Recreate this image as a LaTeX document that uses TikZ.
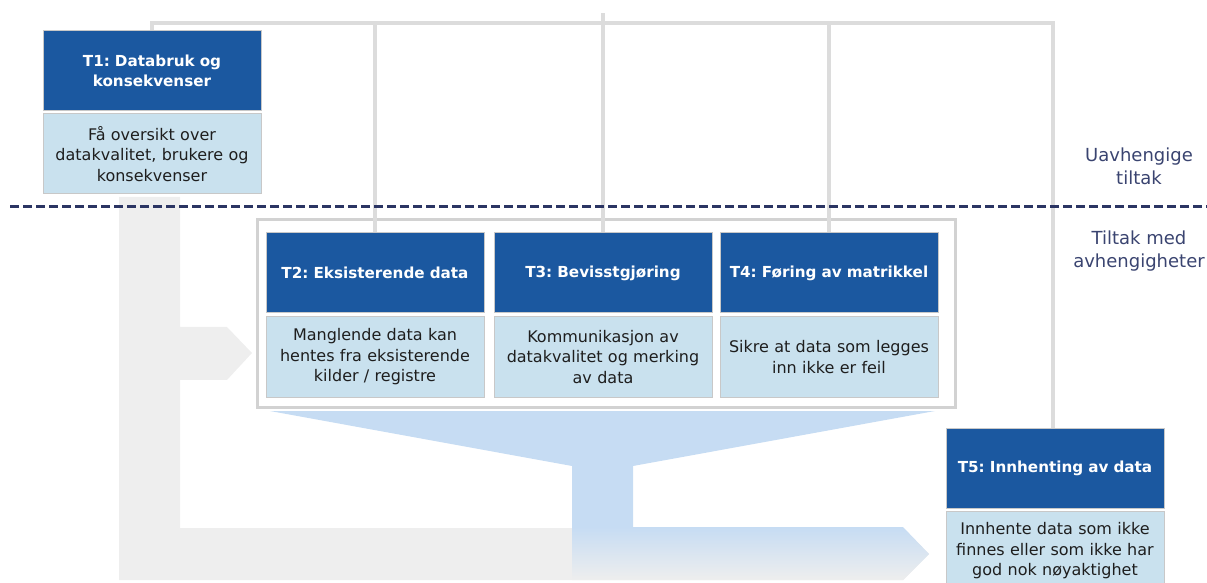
\documentclass[tikz,border=0pt]{standalone}
\usepackage{fontspec}
\setmainfont{DejaVu Sans}
\usetikzlibrary{positioning}
\frenchspacing
\definecolor{headblue}{RGB}{27,88,160}
\definecolor{bodyblue}{RGB}{201,225,238}
\definecolor{boxgray}{RGB}{200,200,200}
\definecolor{linegray}{RGB}{220,220,220}
\definecolor{framegray}{RGB}{210,210,210}
\definecolor{flowgray}{RGB}{238,238,238}
\definecolor{flowblue}{RGB}{198,220,243}
\definecolor{sepnavy}{RGB}{43,53,99}
\definecolor{labelnavy}{RGB}{58,68,112}
\definecolor{textdark}{RGB}{30,30,30}

\begin{document}
\begin{tikzpicture}[x=0.5pt,y=-0.5pt,
  head/.style={draw=boxgray,line width=0.5pt,fill=headblue,text=white,
    font=\fontsize{7.6}{10}\selectfont\bfseries,minimum width=109pt,
    minimum height=40pt,inner sep=0pt,text width=106pt,align=center},
  body/.style={draw=boxgray,line width=0.5pt,fill=bodyblue,text=textdark,
    font=\fontsize{8}{10.25}\selectfont,minimum width=109pt,
    minimum height=40pt,inner sep=0pt,text width=106pt,align=center},
  link/.style={draw=linegray,line width=1.8pt},
  frame/.style={draw=framegray,line width=1.5pt},
  sep/.style={draw=sepnavy,line width=1.5pt,dash pattern=on 4.5pt off 2pt},
  lane/.style={text=labelnavy,font=\fontsize{9}{11.5}\selectfont,align=center}]
  \useasboundingbox (0,0) rectangle (1207,583);

  % flow arrows behind the boxes
  \fill [flowgray] (119,197)--(180,197)--(180,327)--(227,327)--(252,353)--(227,380)--(180,380)
    --(180,528)--(903,528)--(929,554)--(903,580)--(119,580)--cycle;
  \fill [flowblue] (270,411)--(935,411)--(633,466)--(633,528)--(572,528)--(572,466)--cycle;
  \shade [top color=flowblue,bottom color=flowgray] (572,527)--(903,527)--(929,554)--(903,580)--(572,580)--cycle;

  \draw [frame] (257,220) rectangle (955,407);

  \node [head] (t1h) at (152,71) {T1: Databruk og\\konsekvenser};
  \node [body,below=1pt of t1h] (t1b) {Få oversikt over\\datakvalitet, brukere og\\konsekvenser};
  \node [head] (t2h) at (375,273) {T2: Eksisterende data};
  \node [body,below=1.5pt of t2h] (t2b) {Manglende data kan\\hentes fra eksisterende\\kilder / registre};
  \node [head] (t3h) at (603,273) {T3: Bevisstgjøring};
  \node [body,below=1.5pt of t3h] (t3b) {Kommunikasjon av\\datakvalitet og merking\\av data};
  \node [head] (t4h) at (829,273) {T4: Føring av matrikkel};
  \node [body,below=1.5pt of t4h] (t4b) {Sikre at data som legges\\inn ikke er feil};
  \node [head] (t5h) at (1055,468) {T5: Innhenting av data};
  \node [body,below=1pt of t5h] (t5b) {Innhente data som ikke\\finnes eller som ikke har\\god nok nøyaktighet};

  \coordinate (barr) at (1053,23);
  \coordinate (bartop) at (603,13);
  \draw [link] (t1h.north) |- (barr) -- (barr |- t5h.north);
  \draw [link] (t2h.north) -- (t2h.north |- barr);
  \draw [link] (t3h.north) -- (t3h.north |- bartop);
  \draw [link] (t4h.north) -- (t4h.north |- barr);

  \draw [sep] (10,207) -- (1207,207);
  \node [lane] (indep) at (1139,166) {Uavhengige\\tiltak};
  \node [lane] (dep) at (1139,251) {Tiltak med\\avhengigheter};
\end{tikzpicture}
\end{document}
